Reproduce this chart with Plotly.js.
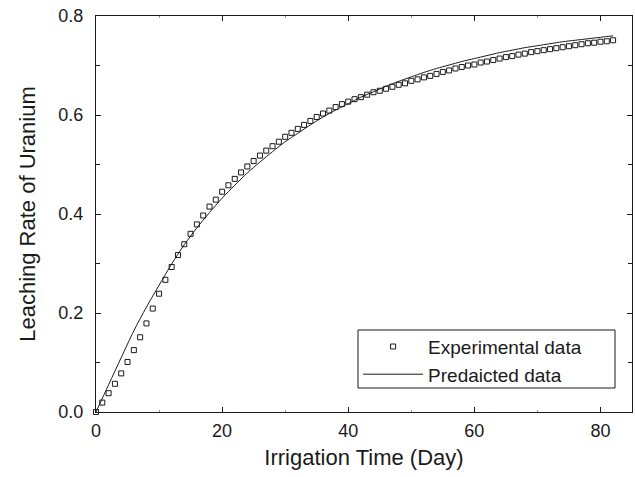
<!DOCTYPE html>
<html>
<head>
<meta charset="utf-8">
<script src="https://cdn.plot.ly/plotly-3.0.1.min.js"></script>
<style>html,body{margin:0;padding:0;background:#fff;}#chart{width:635px;height:477px;}</style>
</head>
<body>
<div id="chart"></div>
<script>
// Experimental data (one sample per day)
const expDays = [];
for (let d = 0; d <= 82; d++) expDays.push(d);
const expValues = [
  0.000, 0.019, 0.038, 0.057, 0.078, 0.101, 0.125, 0.151, 0.179, 0.209,
  0.239, 0.267, 0.293, 0.317, 0.339, 0.360, 0.379, 0.397, 0.415, 0.429,
  0.445, 0.458, 0.471, 0.484, 0.496, 0.507, 0.518, 0.528, 0.537, 0.546,
  0.556, 0.564, 0.572, 0.580, 0.588, 0.596, 0.603, 0.609, 0.616, 0.622,
  0.627, 0.632, 0.636, 0.641, 0.646, 0.649, 0.653, 0.657, 0.661, 0.664,
  0.669, 0.672, 0.676, 0.679, 0.683, 0.687, 0.690, 0.694, 0.697, 0.700,
  0.702, 0.706, 0.708, 0.711, 0.714, 0.717, 0.719, 0.722, 0.724, 0.727,
  0.729, 0.731, 0.733, 0.735, 0.737, 0.739, 0.741, 0.743, 0.745, 0.746,
  0.748, 0.749, 0.751
];
// Predicted curve
const predDays = [0, 2, 4, 6, 8, 10, 12, 14, 16, 18, 20, 22, 24, 26, 28, 30, 32, 34, 36, 38, 40,
  42, 44, 46, 48, 50, 52, 54, 56, 58, 60, 62, 64, 66, 68, 70, 72, 74, 76, 78, 80, 82];
const predValues = [0.000, 0.055, 0.110, 0.164, 0.212, 0.256, 0.299, 0.338, 0.372, 0.403, 0.432,
  0.458, 0.483, 0.505, 0.526, 0.546, 0.563, 0.580, 0.596, 0.610, 0.623,
  0.636, 0.647, 0.658, 0.668, 0.677, 0.686, 0.694, 0.701, 0.708, 0.714,
  0.720, 0.726, 0.731, 0.736, 0.740, 0.744, 0.748, 0.751, 0.754, 0.757, 0.760];

const seriesNames = ["Experimental data", "Predaicted data"];
const xTitle = "Irrigation Time (Day)";
const yTitle = "Leaching Rate of Uranium";

const FONT = '"Liberation Sans", Arial, Helvetica, sans-serif';
const INK = '#1a1a1a';

const traces = [
  {
    x: expDays, y: expValues, name: seriesNames[0], type: 'scatter', mode: 'markers',
    marker: {symbol: 'square-open', size: 5, color: INK, line: {width: 1, color: INK}},
    cliponaxis: false
  },
  {
    x: predDays, y: predValues, name: seriesNames[1], type: 'scatter', mode: 'lines',
    line: {color: INK, width: 1, shape: 'spline', smoothing: 0.8}
  }
];

const axisCommon = {
  showgrid: false, zeroline: false, showline: true, linecolor: INK, linewidth: 1,
  mirror: 'ticks', ticks: 'inside', ticklen: 5, tickwidth: 1, tickcolor: INK,
  tickfont: {family: FONT, size: 18, color: INK}
};

const layout = {
  width: 635, height: 477,
  margin: {l: 96, r: 3, t: 16, b: 65},
  paper_bgcolor: '#fff', plot_bgcolor: '#fff',
  font: {family: FONT, color: INK},
  showlegend: true,
  legend: {
    x: 0.489, y: 0.213, xanchor: 'left', yanchor: 'top',
    bgcolor: 'rgba(0,0,0,0)', borderwidth: 0,
    font: {family: FONT, size: 19, color: INK},
    itemwidth: 60, tracegroupgap: 0
  },
  shapes: [{
    type: 'rect', xref: 'paper', yref: 'paper',
    x0: 0.4888, x1: 0.9683, y0: 0.0606, y1: 0.2071,
    line: {color: INK, width: 1}, fillcolor: '#fff', layer: 'above'
  }],
  xaxis: Object.assign({}, axisCommon, {
    range: [0, 85], dtick: 20, tick0: 0, ticklabelstandoff: 2,
    minor: {dtick: 10, ticks: 'inside', ticklen: 2, tickcolor: '#999', tickwidth: 1},
    title: {text: xTitle, font: {family: FONT, size: 22, color: INK}, standoff: 10}
  }),
  yaxis: Object.assign({}, axisCommon, {
    range: [0, 0.8], dtick: 0.2, tick0: 0, tickformat: '.1f', ticklabelstandoff: 8,
    minor: {dtick: 0.1, ticks: 'inside', ticklen: 4, tickcolor: INK, tickwidth: 1},
    title: {text: yTitle, font: {family: FONT, size: 22, color: INK}, standoff: 16}
  })
};

Plotly.newPlot('chart', traces, layout, {displayModeBar: false, staticPlot: true});
</script>
</body>
</html>
